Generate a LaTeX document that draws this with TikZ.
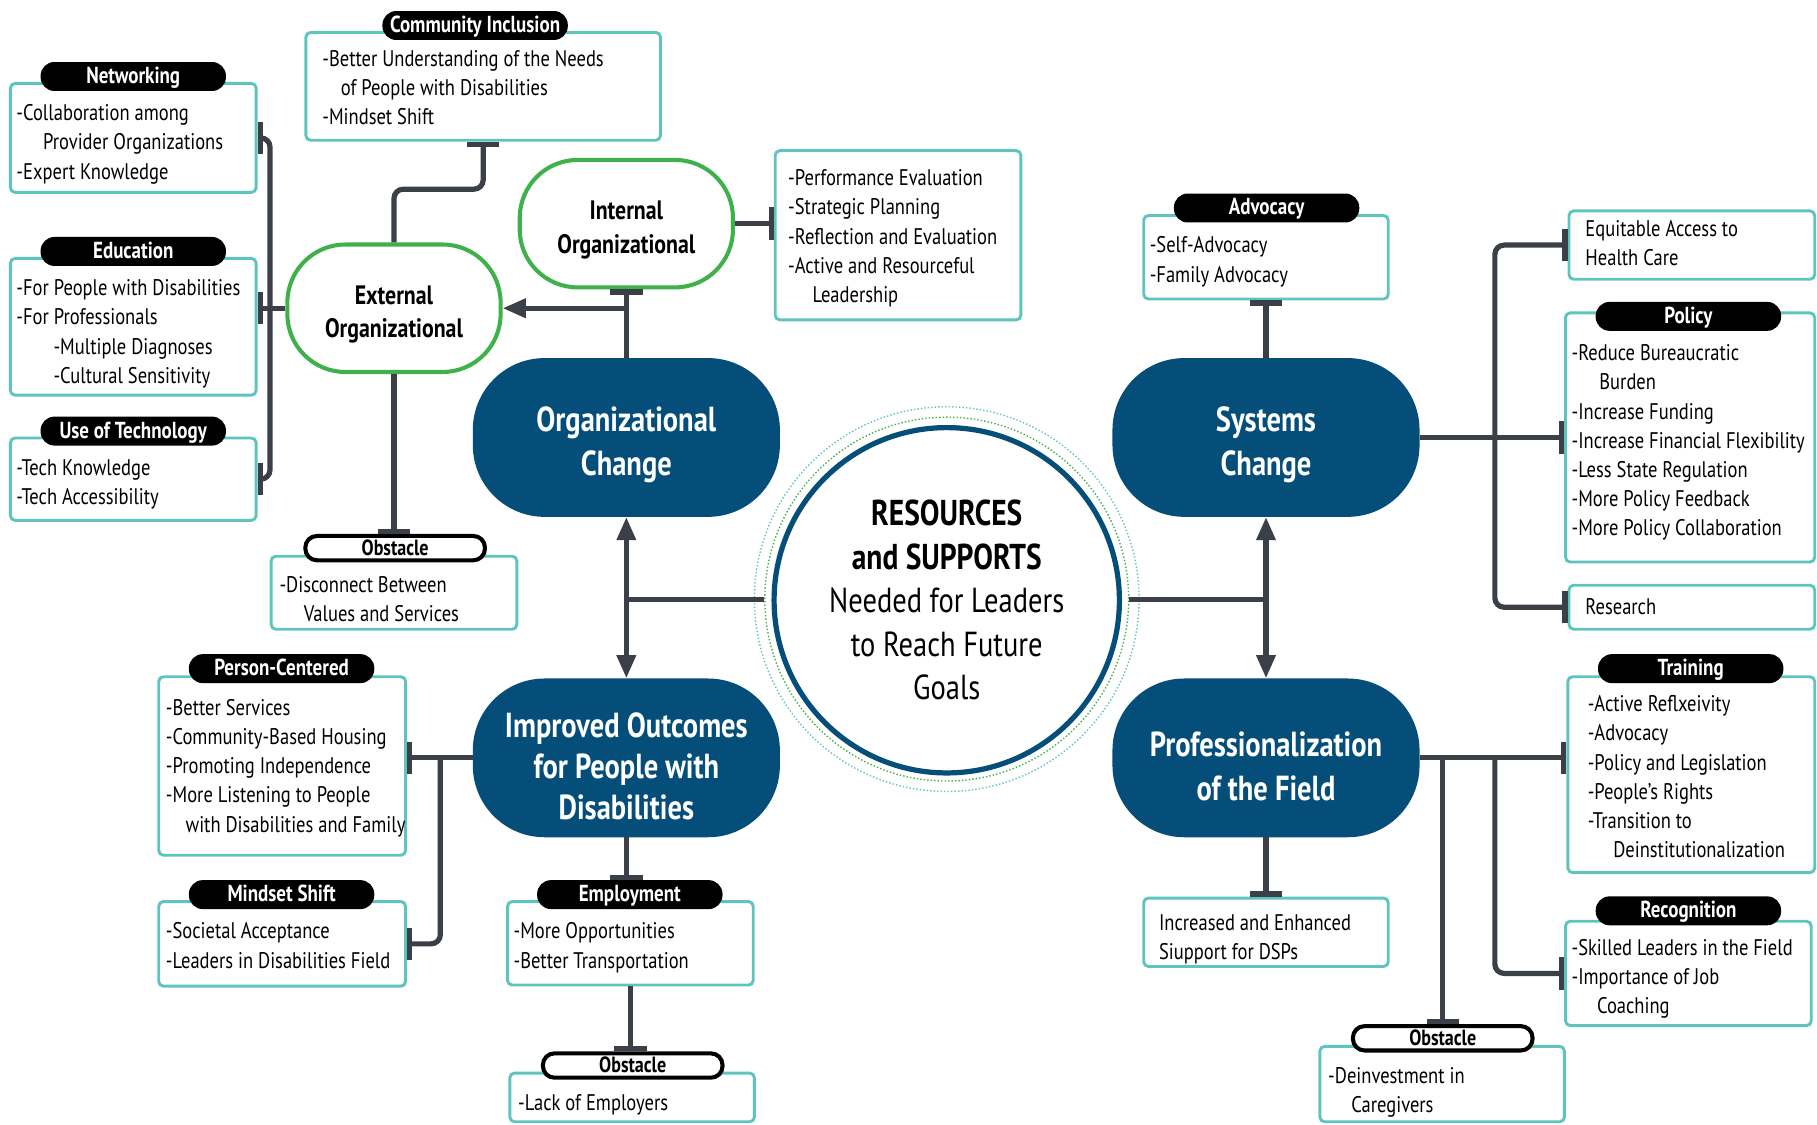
\documentclass[tikz,border=0pt]{standalone}
\usepackage{fontspec}
\setmainfont{PT Sans}[FakeStretch=0.82]
\usetikzlibrary{arrows.meta,calc}
\definecolor{pillblue}{RGB}{4,78,121}
\definecolor{nodegreen}{RGB}{62,177,74}
\definecolor{boxteal}{RGB}{94,196,190}
\definecolor{conngray}{RGB}{59,64,72}
\newcommand\bstrut{\rule{0pt}{15pt}}
\newcommand\pstrut{\rule{0pt}{34pt}}
\newcommand\gstrut{\rule{0pt}{27pt}}
\begin{document}
\begin{tikzpicture}[x=1pt,y=-1pt,
  pill/.style={fill=pillblue, text=white, rounded corners=62pt, minimum width=265pt, minimum height=137pt, align=center, font=\fontsize{30}{38}\selectfont\bfseries, inner sep=0pt},
  gnode/.style={draw=nodegreen, line width=3.5pt, fill=white, rounded corners=50pt, minimum width=184pt, minimum height=110pt, align=center, font=\fontsize{23}{29}\selectfont\bfseries, inner sep=0pt},
  tbox/.style={draw=boxteal, line width=2.5pt, fill=white, rounded corners=4pt, inner sep=0pt},
  blab/.style={fill=black, text=white, rounded corners=12pt, minimum width=160pt, minimum height=25pt, inner sep=0pt, text height=13pt, text depth=1pt, font=\fontsize{20}{22}\selectfont\bfseries},
  olab/.style={draw=black, line width=3.5pt, fill=white, rounded corners=10pt, minimum width=155pt, minimum height=21pt, inner sep=0pt, text height=13pt, text depth=1pt, font=\fontsize{19}{21}\selectfont\bfseries},
  btxt/.style={anchor=north west, align=left, inner sep=0pt, font=\fontsize{19.5}{25.2}\selectfont},
  conn/.style={draw=conngray, line width=4.5pt},
  tee/.style={-{Bar[width=28pt]}},
  teetee/.style={{Bar[width=28pt]}-{Bar[width=28pt]}},
  tri/.style={-{Triangle[length=20pt,width=16pt]}}
]
\fill[white] (0,0) rectangle (1568,970);
\useasboundingbox (0,0) rectangle (1568,970);

% central circle
\node[circle, draw=boxteal, line width=1.2pt, dash pattern=on 1.2pt off 1.8pt, minimum size=332pt, inner sep=0pt] (ring2) at (817,517) {};
\node[circle, draw=nodegreen, line width=1.2pt, dash pattern=on 1.2pt off 1.8pt, minimum size=314pt, inner sep=0pt] (ring) at (817,517) {};
\node[circle, draw=pillblue, line width=4.5pt, minimum size=298pt, inner sep=0pt, align=center, font=\fontsize{30}{37.5}\selectfont] (core) at (817,518)
  {{\fontsize{31}{37.5}\selectfont\bfseries RESOURCES}\\{\fontsize{31}{37.5}\selectfont\bfseries and SUPPORTS}\\Needed for Leaders\\to Reach Future\\Goals};

% main pills
\node[pill] (org) at (540.5,377.5) {\pstrut Organizational\\Change};
\node[pill] (sys) at (1092.5,377.5) {\pstrut Systems\\Change};
\node[pill, font=\fontsize{30}{35}\selectfont\bfseries] (imp) at (540.5,654) {\rule{0pt}{36pt}Improved Outcomes\\for People with\\Disabilities};
\node[pill] (prof) at (1092.5,654) {\rule{0pt}{36pt}Professionalization\\of the Field};

% green nodes
\node[gnode] (int) at (540.5,193) {\gstrut Internal\\Organizational};
\node[gnode] (ext) at (340,266) {\gstrut External\\Organizational};

% ---- left top boxes
\node[tbox, minimum width=212pt, minimum height=94pt] (netbox) at (115,119) {};
\node[blab] (netlab) at (115,66) {Networking};
\node[btxt] (nettxt) at (14,89) {\bstrut-Collaboration among\\\hspace*{23pt}Provider Organizations\\-Expert Knowledge};

\node[tbox, minimum width=212pt, minimum height=118pt] (edubox) at (115,282) {};
\node[blab] (edulab) at (115,217) {Education};
\node[btxt] (edutxt) at (14,240) {\bstrut-For People with Disabilities\\-For Professionals\\\hspace*{32pt}-Multiple Diagnoses\\\hspace*{32pt}-Cultural Sensitivity};

\node[tbox, minimum width=212pt, minimum height=71pt] (techbox) at (115,413.5) {};
\node[blab] (techlab) at (115,372) {Use of Technology};
\node[btxt] (techtxt) at (14,395) {\bstrut-Tech Knowledge\\-Tech Accessibility};

\node[tbox, minimum width=306pt, minimum height=93pt] (commbox) at (417,74.5) {};
\node[blab] (commlab) at (410,22) {Community Inclusion};
\node[btxt] (commtxt) at (278,42) {\bstrut-Better Understanding of the Needs\\\hspace*{16pt}of People with Disabilities\\-Mindset Shift};

\node[tbox, minimum width=212pt, minimum height=146pt] (stratbox) at (775,203) {};
\node[btxt] (strattxt) at (680,145) {\bstrut-Performance Evaluation\\-Strategic Planning\\-Reflection and Evaluation\\-Active and Resourceful\\\hspace*{21pt}Leadership};

\node[tbox, minimum width=212pt, minimum height=63pt] (obs1box) at (340,511.5) {};
\node[olab] (obs1lab) at (341,473) {Obstacle};
\node[btxt] (obs1txt) at (241,496) {\bstrut-Disconnect Between\\\hspace*{21pt}Values and Services};

% ---- right top boxes
\node[tbox, minimum width=211pt, minimum height=72pt] (advbox) at (1092.5,222) {};
\node[blab] (advlab) at (1093,179.5) {Advocacy};
\node[btxt] (advtxt) at (992,203) {\bstrut-Self-Advocacy\\-Family Advocacy};

\node[tbox, minimum width=212pt, minimum height=59pt] (eqbox) at (1460,211.5) {};
\node[btxt] (eqtxt) at (1368,189) {\bstrut Equitable Access to\\Health Care};

\node[tbox, minimum width=215pt, minimum height=215pt] (polbox) at (1458.5,377.5) {};
\node[blab] (pollab) at (1457,273) {Policy};
\node[btxt] (poltxt) at (1356,296) {\bstrut-Reduce Bureaucratic\\\hspace*{24pt}Burden\\-Increase Funding\\-Increase Financial Flexibility\\-Less State Regulation\\-More Policy Feedback\\-More Policy Collaboration};

\node[tbox, minimum width=212pt, minimum height=38pt] (resbox) at (1460,524) {};
\node[btxt] (restxt) at (1368,515) {\bstrut Research};

% ---- right bottom boxes
\node[tbox, minimum width=213pt, minimum height=169pt] (trainbox) at (1459.5,668.5) {};
\node[blab] (trainlab) at (1459,577) {Training};
\node[btxt] (traintxt) at (1370,599) {\bstrut-Active Reflxeivity\\-Advocacy\\-Policy and Legislation\\-People's Rights\\-Transition to\\\hspace*{22pt}Deinstitutionalization};

\node[tbox, minimum width=212pt, minimum height=90pt] (recbox) at (1457,840) {};
\node[blab] (reclab) at (1457,786) {Recognition};
\node[btxt] (rectxt) at (1356,809) {\bstrut-Skilled Leaders in the Field\\-Importance of Job\\\hspace*{22pt}Coaching};

\node[tbox, minimum width=211pt, minimum height=59pt] (incbox) at (1092.5,804.5) {};
\node[btxt] (inctxt) at (1000,788) {\bstrut Increased and Enhanced\\Siupport for DSPs};

\node[tbox, minimum width=211pt, minimum height=65pt] (obs3box) at (1244.5,935.5) {};
\node[olab] (obs3lab) at (1245,896) {Obstacle};
\node[btxt] (obs3txt) at (1146,920) {\bstrut-Deinvestment in\\\hspace*{20pt}Caregivers};

% ---- left bottom boxes
\node[tbox, minimum width=213pt, minimum height=154pt] (pcbox) at (243.5,661) {};
\node[blab] (pclab) at (243,577) {Person-Centered};
\node[btxt] (pctxt) at (143,602) {\bstrut-Better Services\\-Community-Based Housing\\-Promoting Independence\\-More Listening to People\\\hspace*{17pt}with Disabilities and Family};

\node[tbox, minimum width=213pt, minimum height=73pt] (msbox) at (243.5,814.5) {};
\node[blab] (mslab) at (243,772) {Mindset Shift};
\node[btxt] (mstxt) at (143,795) {\bstrut-Societal Acceptance\\-Leaders in Disabilities Field};

\node[tbox, minimum width=212pt, minimum height=72pt] (empbox) at (544,814) {};
\node[blab] (emplab) at (543.5,772) {Employment};
\node[btxt] (emptxt) at (443,795) {\bstrut-More Opportunities\\-Better Transportation};

\node[tbox, minimum width=211pt, minimum height=42pt] (obs2box) at (545.5,947) {};
\node[olab] (obs2lab) at (546,919.5) {Obstacle};
\node[btxt] (obs2txt) at (447,943) {\bstrut-Lack of Employers};

% ---- connectors
\draw[conn,tri] (ring.west) -| (org.south);
\draw[conn,tri] (ring.west) -| (imp.north);
\draw[conn,tri] (ring.east) -| (sys.south);
\draw[conn,tri] (ring.east) -| (prof.north);

\draw[conn,tee] (org.north) -- (int.south);
\draw[conn,tri] (org.north) |- (ext.east);
\draw[conn,tee] (int.east) -- (int.east -| stratbox.west);
\draw[conn,tee,rounded corners=8pt] (ext.north) -- ++(0,-46) -| (commbox.south);
\draw[conn,tee] (ext.south) -- (ext.south |- obs1lab.north);
\coordinate (ej) at (233,266);
\draw[conn] (ext.west) -- (ej);
\draw[conn,teetee,rounded corners=8pt] (netbox.east) -| (ej) |- (techbox.east);
\draw[conn,tee] (ej) -- (ej -| edubox.east);

\draw[conn,tee] (sys.north) -- (advbox.south);
\coordinate (sj) at (1290,377.5);
\draw[conn,tee] (sys.east) -- (sys.east -| polbox.west);
\draw[conn,teetee,rounded corners=8pt] (eqbox.west) -| (sj) |- (resbox.west);

\draw[conn,tee] (prof.east) -- (prof.east -| trainbox.west);
\coordinate (pj1) at (1245,654);
\coordinate (pj2) at (1290,654);
\draw[conn,tee] (pj1) -- (pj1 |- obs3lab.north);
\draw[conn,tee,rounded corners=8pt] (pj2) |- (recbox.west);
\draw[conn,tee] (prof.south) -- (incbox.north);

\draw[conn,tee] (imp.west) -- (imp.west -| pcbox.east);
\coordinate (ij) at (380,654);
\draw[conn,tee,rounded corners=8pt] (ij) |- (msbox.east);
\draw[conn,tee] (imp.south) -- (imp.south |- emplab.north);
\draw[conn,tee] (empbox.south) -- (empbox.south |- obs2lab.north);
\end{tikzpicture}
\end{document}
